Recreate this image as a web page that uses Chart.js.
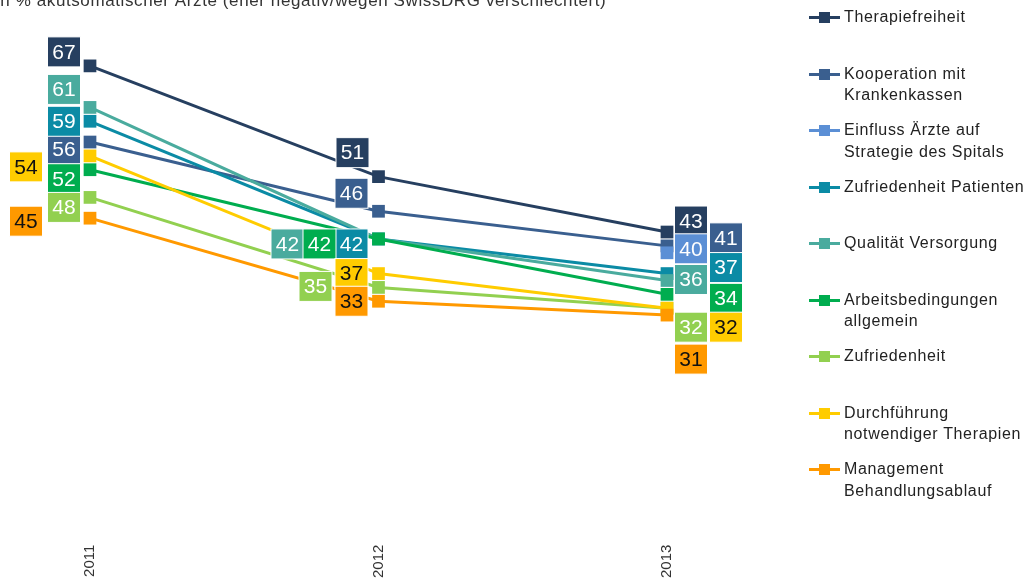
<!DOCTYPE html>
<html>
<head>
<meta charset="utf-8">
<script src="https://cdn.jsdelivr.net/npm/chart.js@4/dist/chart.umd.min.js"></script>
<style>
  html, body { margin: 0; padding: 0; background: #fff; overflow: hidden; }
  #wrap { position: relative; width: 1030px; height: 578px; }
  #title {
    position: absolute; left: -5px; top: -9px; letter-spacing: 0.6px;
    font: 17px "Liberation Sans", Arial, sans-serif; color: #333; white-space: nowrap;
  }
  #legend { position: absolute; left: 809px; top: 6px; }
  .item { position: absolute; left: 0; width: 230px; display: flex; align-items: flex-start; }
  .swatch { position: relative; width: 31px; height: 22px; flex: none; }
  .swatch .ln { position: absolute; left: 0; top: 10px; width: 31px; height: 3px; }
  .swatch .sq { position: absolute; left: 10px; top: 6px; width: 11px; height: 11px; }
  .txt { margin-left: 4px; font: 16px/21.5px "Liberation Sans", Arial, sans-serif; letter-spacing: 0.65px; color: #222; }
</style>
</head>
<body>
<div id="wrap">
  <canvas id="chart" width="1030" height="578"></canvas>
  <div id="title">In % akutsomatischer Ärzte (eher negativ/wegen SwissDRG verschlechtert)</div>
  <div id="legend"></div>
</div>
<script>
// Data
const years = ['2011', '2012', '2013'];

const seriesNames = [
  ['Therapiefreiheit'],
  ['Kooperation mit', 'Krankenkassen'],
  ['Einfluss Ärzte auf', 'Strategie des Spitals'],
  ['Zufriedenheit Patienten'],
  ['Qualität Versorgung'],
  ['Arbeitsbedingungen', 'allgemein'],
  ['Zufriedenheit'],
  ['Durchführung', 'notwendiger Therapien'],
  ['Management', 'Behandlungsablauf']
];

const therapiefreiheit = [67, 51, 43];
const kooperation = [56, 46, 41];
const einfluss = [null, null, 40];
const zufriedenheitPatienten = [59, 42, 37];
const qualitaet = [61, 42, 36];
const arbeitsbedingungen = [52, 42, 34];
const zufriedenheit = [48, 35, 32];
const durchfuehrung = [54, 37, 32];
const management = [45, 33, 31];

const seriesValues = [therapiefreiheit, kooperation, einfluss, zufriedenheitPatienten,
  qualitaet, arbeitsbedingungen, zufriedenheit, durchfuehrung, management];

// Styles
const colors = ['#263f60', '#3a5f8f', '#5b8fd5', '#0b8ba5', '#4aab9e', '#00ad4f', '#92d050', '#ffcc00', '#ff9900'];
const labelTextColors = ['#fff', '#fff', '#fff', '#fff', '#fff', '#fff', '#fff', '#111', '#111'];

// label box offsets from each point (px), to keep boxes apart like the original
const labelOffsets = [
  [[-26, -14], [-26, -24], [24, -11]],
  [[-26, 7], [-27, -18], [59, -8]],
  [null, null, [24, -4]],
  [[-26, 0], [-27, 5], [59, -6]],
  [[-26, -18], [-91, 5], [24, -1]],
  [[-26, 9], [-59, 5], [59, 4]],
  [[-26, 10], [-63, -1], [24, 19]],
  [[-64, 11], [-27, 0], [59, 19]],
  [[-64, 3], [-27, 0], [24, 44]]
];

const FONT = '"Liberation Sans", Arial, sans-serif';

const valueBoxes = {
  id: 'valueBoxes',
  afterDatasetsDraw(chart) {
    const ctx = chart.ctx;
    ctx.save();
    ctx.font = '21px ' + FONT;
    ctx.textAlign = 'center';
    ctx.textBaseline = 'middle';
    chart.data.datasets.forEach((ds, i) => {
      const meta = chart.getDatasetMeta(i);
      ds.data.forEach((v, j) => {
        if (v === null) return;
        const pt = meta.data[j];
        const off = labelOffsets[i][j];
        const cx = pt.x + off[0];
        const cy = pt.y + off[1];
        ctx.fillStyle = colors[i];
        ctx.fillRect(cx - 16.5, cy - 15, 33, 30);
        ctx.strokeStyle = '#fff';
        ctx.lineWidth = 1;
        ctx.strokeRect(cx - 16.5, cy - 15, 33, 30);
        ctx.fillStyle = labelTextColors[i];
        ctx.fillText(String(v), cx, cy + 1);
      });
    });
    ctx.restore();
  }
};

new Chart(document.getElementById('chart'), {
  type: 'line',
  data: {
    labels: years,
    datasets: seriesValues.map((vals, i) => ({
      label: seriesNames[i].join(' '),
      data: vals,
      borderColor: colors[i],
      backgroundColor: colors[i],
      borderWidth: 3,
      pointStyle: 'rect',
      pointRadius: 9,
      pointBorderWidth: 0,
      tension: 0,
      spanGaps: false,
      clip: false,
      order: seriesValues.length - i
    }))
  },
  options: {
    responsive: false,
    animation: false,
    layout: { padding: { left: 90, right: 363, top: 10.5, bottom: 0 } },
    plugins: {
      legend: { display: false },
      tooltip: { enabled: false },
      title: { display: false }
    },
    scales: {
      x: {
        offset: false,
        grid: { display: false },
        border: { display: false },
        ticks: {
          minRotation: 90,
          maxRotation: 90,
          padding: 0,
          color: '#333',
          font: { family: FONT, size: 15 }
        }
      },
      y: {
        display: false,
        min: -1,
        max: 75
      }
    }
  },
  plugins: [valueBoxes]
});

// HTML legend
const legend = document.getElementById('legend');
seriesNames.forEach((lines, i) => {
  const item = document.createElement('div');
  item.className = 'item';
  item.style.top = (i * 56.5) + 'px';
  item.innerHTML = '<div class="swatch"><div class="ln" style="background:' + colors[i] +
    '"></div><div class="sq" style="background:' + colors[i] + '"></div></div>' +
    '<div class="txt">' + lines.join('<br>') + '</div>';
  legend.appendChild(item);
});
</script>
</body>
</html>
